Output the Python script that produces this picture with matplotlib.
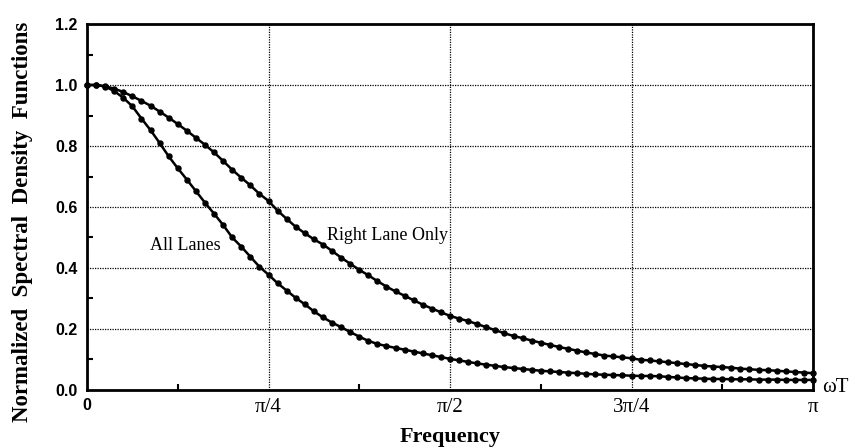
import numpy as np
import matplotlib
matplotlib.use("Agg")
import matplotlib.pyplot as plt
from matplotlib.ticker import FixedLocator, MultipleLocator

# normalized frequency grid: omega*T from 0 to pi in 80 steps
N_STEPS = 80

all_lanes = [
    1.000, 1.000, 0.995, 0.980, 0.958, 0.930, 0.890, 0.852, 0.810, 0.766,
    0.727, 0.690, 0.652, 0.614, 0.578, 0.541, 0.500, 0.470, 0.437, 0.404,
    0.378, 0.350, 0.326, 0.302, 0.281, 0.258, 0.238, 0.221, 0.206, 0.190,
    0.175, 0.161, 0.151, 0.144, 0.138, 0.132, 0.126, 0.120, 0.114, 0.108,
    0.102, 0.097, 0.092, 0.087, 0.083, 0.079, 0.075, 0.072, 0.069, 0.066,
    0.063, 0.061, 0.059, 0.057, 0.055, 0.053, 0.051, 0.050, 0.049, 0.048,
    0.047, 0.046, 0.046, 0.045, 0.043, 0.041, 0.039, 0.038, 0.037, 0.036,
    0.036, 0.035, 0.035, 0.035, 0.034, 0.034, 0.034, 0.033, 0.033, 0.033,
    0.033,
]

right_lane = [
    1.000, 1.000, 0.996, 0.988, 0.977, 0.963, 0.948, 0.932, 0.913, 0.893,
    0.872, 0.850, 0.827, 0.804, 0.779, 0.751, 0.722, 0.696, 0.671, 0.643,
    0.620, 0.588, 0.561, 0.535, 0.514, 0.494, 0.477, 0.456, 0.434, 0.414,
    0.394, 0.376, 0.357, 0.339, 0.323, 0.309, 0.294, 0.280, 0.267, 0.255,
    0.243, 0.234, 0.226, 0.216, 0.206, 0.196, 0.186, 0.177, 0.170, 0.162,
    0.155, 0.148, 0.141, 0.135, 0.129, 0.123, 0.118, 0.113, 0.110, 0.107,
    0.104, 0.099, 0.097, 0.094, 0.091, 0.088, 0.085, 0.082, 0.079, 0.077,
    0.075, 0.073, 0.070, 0.068, 0.066, 0.065, 0.063, 0.061, 0.059, 0.057,
    0.055,
]

x_ticks = [0, np.pi / 4, np.pi / 2, 3 * np.pi / 4, np.pi]
x_ticklabels = ["0", "π/4", "π/2", "3π/4", "π"]
y_ticks = [0.0, 0.2, 0.4, 0.6, 0.8, 1.0, 1.2]

SERIF = ["Liberation Serif", "DejaVu Serif"]
SANS = ["Liberation Sans", "DejaVu Sans"]

omega = np.linspace(0, np.pi, N_STEPS + 1)

fig = plt.figure(figsize=(8.54, 4.48), dpi=100)
ax = fig.add_axes([0.1019, 0.1295, 0.8501, 0.8169])

for vals in (all_lanes, right_lane):
    ax.plot(omega, vals, color="black", lw=1.8, marker="o", ms=3.6,
            mfc="black", mec="black", clip_on=False, zorder=3)

ax.set_xlim(0, np.pi)
ax.set_ylim(0, 1.2)

ax.xaxis.set_major_locator(FixedLocator(x_ticks))
ax.xaxis.set_minor_locator(FixedLocator([np.pi / 8, 3 * np.pi / 8, 5 * np.pi / 8, 7 * np.pi / 8]))
ax.yaxis.set_major_locator(FixedLocator(y_ticks))
ax.yaxis.set_minor_locator(MultipleLocator(0.1))

ax.grid(which="major", color="black", lw=0.9, linestyle=(0, (1, 1)))
ax.tick_params(which="major", length=0)
ax.tick_params(axis="y", which="major", pad=7)
ax.tick_params(axis="x", which="major", pad=6)
ax.tick_params(which="minor", direction="in", length=4, width=1.5, color="black")

ax.set_xticklabels(x_ticklabels)
for i, lbl in enumerate(ax.get_xticklabels()):
    if i == 0:
        lbl.set_fontfamily(SANS)
        lbl.set_fontweight("bold")
        lbl.set_fontsize(11.5)
    else:
        lbl.set_fontfamily(SERIF)
        lbl.set_fontsize(15)
ax.set_yticklabels([f"{v:.1f}" for v in y_ticks], fontfamily=SANS,
                   fontweight="bold", fontsize=11.5)

for s in ax.spines.values():
    s.set_linewidth(2.0)
    s.set_color("black")

ax.set_xlabel("Frequency", fontfamily=SERIF, fontweight="bold", fontsize=16)
ax.xaxis.set_label_coords(0.5, -0.10)
ax.set_ylabel("Normalized  Spectral  Density  Functions", fontfamily=SERIF,
              fontweight="bold", fontsize=16.5, va="center")
ax.yaxis.set_label_coords(-0.0895, 0.46)

ax.text(0.424, 0.475, "All Lanes", fontfamily=SERIF, fontsize=13,
        ha="center", va="center")
ax.text(1.30, 0.508, "Right Lane Only", fontfamily=SERIF, fontsize=13,
        ha="center", va="center")
ax.text(1.012, 0.006, "ωT", transform=ax.transAxes, fontfamily=SERIF,
        fontsize=15, ha="left", va="center")

fig.savefig("out.png", dpi=100)
